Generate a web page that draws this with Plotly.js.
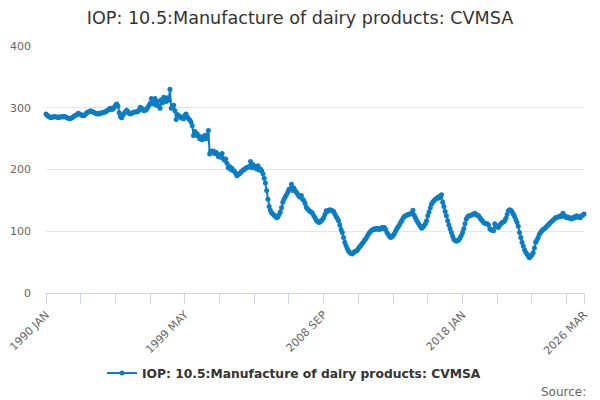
<!DOCTYPE html>
<html>
<head>
<meta charset="utf-8">
<script src="https://cdn.plot.ly/plotly-3.0.1.min.js"></script>
<style>
  html, body { margin: 0; padding: 0; background: #fff; }
  #chart { width: 600px; height: 400px; }
</style>
</head>
<body>
<div id="chart"></div>
<script>
// month names used to build the category labels
var monthNames = ['JAN', 'FEB', 'MAR', 'APR', 'MAY', 'JUN', 'JUL', 'AUG', 'SEP', 'OCT', 'NOV', 'DEC'];
var firstYear = 1990;
var lastYear = 2026;
var lastMonth = 3; // series ends 2026 MAR

// IOP: 10.5 Manufacture of dairy products, CVMSA (one row per year)
var cvmsa = [
  290, 288, 286, 285, 284, 285, 285, 286, 285, 285, 284, 285, // 1990
  285, 286, 285, 286, 285, 284, 283, 282, 283, 284, 285, 287, // 1991
  288, 289, 291, 290, 289, 288, 287, 288, 290, 292, 293, 294, // 1992
  295, 294, 293, 292, 291, 290, 291, 290, 291, 292, 292, 293, // 1993
  293, 295, 296, 298, 299, 297, 298, 301, 304, 306, 303, 292, // 1994
  286, 284, 288, 291, 293, 296, 294, 291, 290, 291, 292, 293, // 1995
  293, 293, 294, 296, 301, 299, 298, 295, 296, 297, 300, 304, // 1996
  307, 315, 306, 312, 315, 304, 310, 303, 299, 313, 308, 317, // 1997
  314, 310, 316, 312, 330, 299, 302, 304, 295, 281, 289, 287, // 1998
  286, 284, 283, 282, 288, 290, 285, 282, 280, 277, 271, 255, // 1999
  262, 256, 258, 254, 250, 253, 248, 252, 255, 250, 256, 263, // 2000
  225, 230, 229, 230, 226, 228, 226, 221, 223, 220, 226, 218, // 2001
  215, 217, 210, 203, 205, 200, 202, 198, 197, 194, 190, 192, // 2002
  193, 195, 197, 199, 200, 202, 203, 204, 205, 213, 203, 208, // 2003
  203, 205, 201, 206, 199, 201, 198, 193, 186, 178, 166, 152, // 2004
  140, 134, 130, 128, 126, 124, 122, 123, 127, 131, 138, 147, // 2005
  152, 156, 159, 163, 168, 169, 176, 166, 170, 166, 163, 160, // 2006
  157, 155, 158, 152, 150, 145, 139, 136, 134, 132, 131, 129, // 2007
  125, 122, 118, 116, 114, 115, 117, 119, 122, 127, 133, 132, // 2008
  134, 135, 134, 133, 132, 128, 124, 121, 117, 110, 103, 98,  // 2009
  90, 82, 77, 72, 68, 66, 64, 63, 65, 67, 68, 69,             // 2010
  72, 75, 77, 80, 82, 86, 88, 91, 95, 98, 100, 102,           // 2011
  103, 104, 103, 105, 104, 103, 104, 106, 104, 106, 103, 98,  // 2012
  95, 92, 90, 91, 93, 96, 100, 104, 107, 110, 114, 117,       // 2013
  121, 124, 125, 126, 127, 128, 128, 129, 134, 126, 122, 118, // 2014
  114, 111, 108, 105, 107, 109, 112, 117, 125, 131, 138, 144, // 2015
  147, 150, 152, 153, 155, 154, 157, 159, 147, 140, 132, 125, // 2016
  117, 110, 104, 98, 92, 87, 85, 84, 85, 86, 89, 93,          // 2017
  98, 104, 112, 120, 123, 125, 125, 126, 127, 128, 129, 127,  // 2018
  126, 125, 122, 119, 117, 114, 113, 112, 112, 110, 104, 102, // 2019
  102, 101, 112, 108, 107, 106, 110, 112, 114, 115, 117, 121, // 2020
  127, 133, 135, 134, 131, 128, 124, 119, 114, 108, 98, 90,   // 2021
  82, 76, 70, 66, 63, 60, 57, 59, 62, 65, 73, 82,             // 2022
  86, 90, 95, 98, 101, 103, 104, 106, 108, 110, 112, 114,     // 2023
  116, 118, 120, 122, 122, 123, 124, 125, 124, 129, 126, 124, // 2024
  122, 123, 121, 122, 120, 121, 123, 122, 125, 124, 123, 122, // 2025
  125, 126, 128                                               // 2026
];

var yTicks = [0, 100, 200, 300, 400];

var months = [];
for (var y = firstYear; y <= lastYear; y++) {
  for (var m = 0; m < 12; m++) {
    if (y === lastYear && m >= lastMonth) break;
    months.push(y + ' ' + monthNames[m]);
  }
}

// tick every 28 months, label every fourth tick, plus the last month
var tickStep = 28;
var tickVals = [];
var tickText = [];
for (var i = 0; i < months.length; i += tickStep) {
  tickVals.push(months[i]);
  tickText.push(i % (tickStep * 4) === 0 ? months[i] : '');
}
tickVals.push(months[months.length - 1]);
tickText.push(months[months.length - 1]);

var blue = '#0b7dc2';

var trace = {
  x: months,
  y: cvmsa,
  type: 'scatter',
  mode: 'lines+markers',
  name: 'IOP: 10.5:Manufacture of dairy products: CVMSA',
  line: { color: blue, width: 2 },
  marker: { color: blue, size: 5 },
  cliponaxis: false
};

var layout = {
  width: 600,
  height: 400,
  margin: { l: 46, r: 16, t: 46, b: 107 },
  paper_bgcolor: '#fff',
  plot_bgcolor: '#fff',
  font: { family: 'DejaVu Sans, sans-serif', color: '#666', size: 11 },
  title: {
    text: 'IOP: 10.5:Manufacture of dairy products: CVMSA',
    font: { size: 17.6, color: '#333' },
    x: 0.5, xanchor: 'center',
    y: 0.955, yanchor: 'middle'
  },
  xaxis: {
    type: 'category',
    range: [0, months.length - 1],
    tickmode: 'array',
    tickvals: tickVals,
    ticktext: tickText,
    tickangle: -45,
    ticks: 'outside',
    ticklen: 10,
    tickcolor: '#ccd6eb',
    showline: true,
    linecolor: '#ccd6eb',
    showgrid: false,
    zeroline: false,
    tickfont: { size: 11, color: '#666' }
  },
  yaxis: {
    range: [0, 400],
    tickmode: 'array',
    tickvals: yTicks,
    showgrid: true,
    gridcolor: '#e6e6e6',
    zeroline: false,
    showline: false,
    ticklabelstandoff: 14,
    tickfont: { size: 11, color: '#666' }
  },
  showlegend: true,
  legend: {
    orientation: 'h',
    x: 0.461, xanchor: 'center',
    y: -0.324, yanchor: 'middle',
    font: { size: 12.3, color: '#333', weight: 'bold' }
  },
  annotations: [{
    text: 'Source:',
    xref: 'paper', yref: 'paper',
    x: 1.007, xanchor: 'right',
    y: -0.4, yanchor: 'middle',
    showarrow: false,
    font: { size: 12, color: '#666' }
  }]
};

Plotly.newPlot('chart', [trace], layout, { displayModeBar: false, staticPlot: true });
</script>
</body>
</html>
